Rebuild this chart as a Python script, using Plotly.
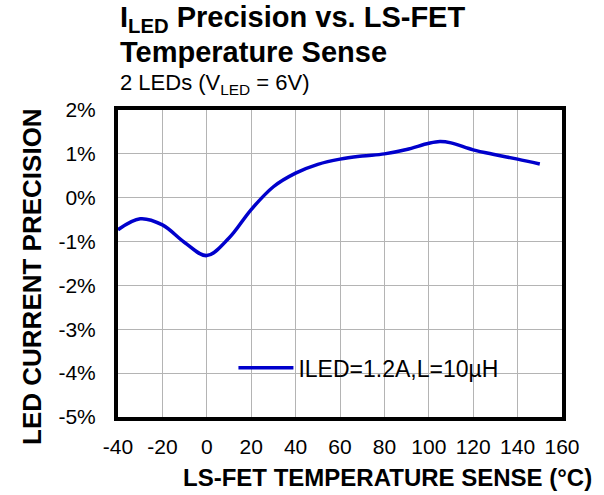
import plotly.graph_objects as go

# data
temp_c = [-40, -30, -20, -10, 0, 10, 20, 30, 40, 50, 60, 70, 80, 90, 100, 105, 110, 120, 130, 140, 150]
precision_pct = [-0.73, -0.48, -0.62, -1.02, -1.32, -0.92, -0.27, 0.25, 0.56, 0.76, 0.88, 0.95, 1.0, 1.1, 1.24,
                 1.28, 1.25, 1.09, 0.98, 0.88, 0.77]
series_name = "ILED=1.2A,L=10\u00b5H"

x_ticks = [-40, -20, 0, 20, 40, 60, 80, 100, 120, 140, 160]
x_tick_labels = ["-40", "-20", "0", "20", "40", "60", "80", "100", "120", "140", "160"]
y_ticks = [-5, -4, -3, -2, -1, 0, 1, 2]
y_tick_labels = ["-5%", "-4%", "-3%", "-2%", "-1%", "0%", "1%", "2%"]

FONT = "Liberation Sans, Arial, sans-serif"

fig = go.Figure()
fig.add_trace(go.Scatter(
    x=temp_c,
    y=precision_pct,
    mode="lines",
    name=series_name,
    line=dict(color="#0000CC", width=3.5, shape="spline", smoothing=1.0),
))

axis_common = dict(
    showline=True, linecolor="black", linewidth=4, mirror=True,
    showgrid=True, gridcolor="#b4b4b4", gridwidth=1,
    zeroline=False, ticks="",
    tickfont=dict(family=FONT, size=21, color="black"),
)

fig.update_xaxes(range=[-40, 160], tickvals=x_ticks, ticktext=x_tick_labels,
                 ticklabelstandoff=8, **axis_common)
fig.update_yaxes(range=[-5, 2], tickvals=y_ticks, ticktext=y_tick_labels,
                 ticklabelstandoff=14, **axis_common)

fig.update_layout(
    width=604, height=495,
    margin=dict(l=118, r=42, t=110, b=78),
    paper_bgcolor="white", plot_bgcolor="white",
    font=dict(family=FONT, color="black"),
    showlegend=True,
    legend=dict(
        x=0.26, xanchor="left", y=0.16, yanchor="middle",
        bgcolor="rgba(0,0,0,0)", borderwidth=0,
        font=dict(family=FONT, size=23, color="black"),
        itemwidth=55,
    ),
    shapes=[dict(
        type="rect", xref="paper", yref="paper",
        x0=0.17, x1=0.955, y0=0.088, y1=0.235,
        fillcolor="white", line=dict(width=0), layer="between",
    )],
    annotations=[
        dict(text="<b>I<sub>LED</sub> Precision vs. LS-FET</b>", xref="paper", yref="paper",
             x=0.0, y=1.296, xanchor="left", yanchor="middle", showarrow=False,
             font=dict(family=FONT, size=29, color="black")),
        dict(text="<b>Temperature Sense</b>", xref="paper", yref="paper",
             x=0.0, y=1.19, xanchor="left", yanchor="middle", showarrow=False,
             font=dict(family=FONT, size=29, color="black")),
        dict(text="2 LEDs (V<sub>LED</sub> = 6V)", xref="paper", yref="paper",
             x=0.0, y=1.085, xanchor="left", yanchor="middle", showarrow=False,
             font=dict(family=FONT, size=22, color="black")),
        dict(text="<b>LS-FET TEMPERATURE SENSE (\u00b0C)</b>", xref="paper", yref="paper",
             x=0.608, y=-0.196, xanchor="center", yanchor="middle", showarrow=False,
             font=dict(family=FONT, size=24, color="black")),
        dict(text="<b>LED CURRENT PRECISION</b>", xref="paper", yref="paper",
             x=-0.194, y=0.459, xanchor="center", yanchor="middle", showarrow=False,
             textangle=-90, font=dict(family=FONT, size=26, color="black")),
    ],
)

fig.write_html("out.html", config={"displayModeBar": False},
               post_script="document.body.style.margin='0';")
